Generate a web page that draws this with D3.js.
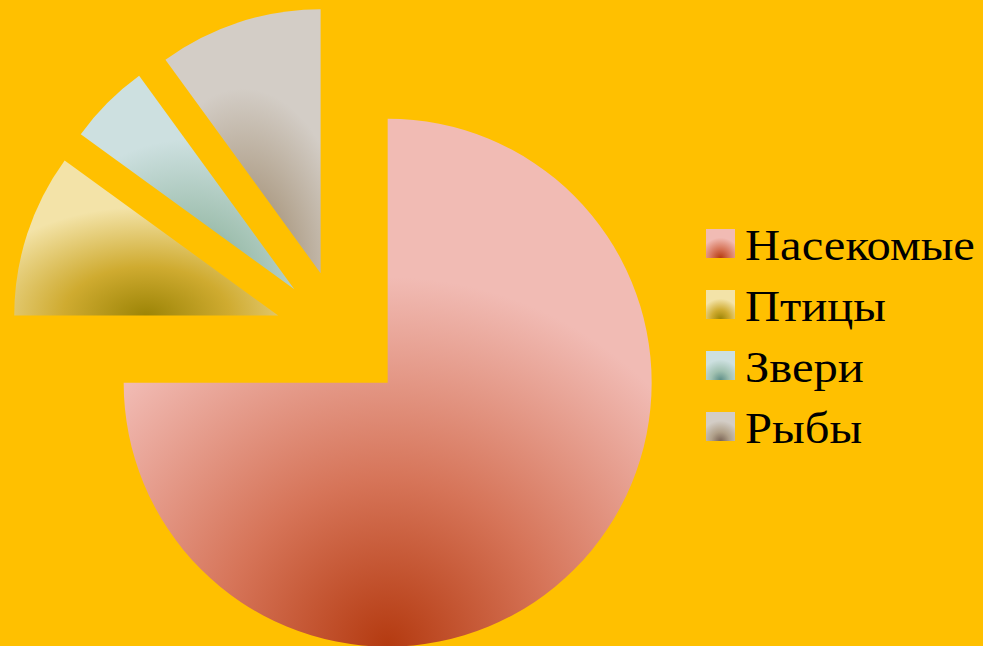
<!DOCTYPE html>
<html>
<head>
    <meta charset="utf-8">
    <title>Pie</title>
    <script src="https://d3js.org/d3.v7.min.js"></script>
    <style>
        body { margin: 0; background-color: #FFC000; }
        svg { display: block; }
        .legend text { font-family: "Liberation Serif", "Times New Roman", serif; font-size: 45px; fill: #000; }
    </style>
</head>
<body>
<div id="chart"></div>
<script>
    // data
    const categories = ["Насекомые", "Птицы", "Звери", "Рыбы"];
    const values = [75, 10, 5, 10];
    // light edge / middle / dark centre of each slice gradient
    const lightColors = ["#F1BBB4", "#F3E3A8", "#CDE0E0", "#D3CDC6"];
    const midColors = ["#D67458", "#CFAB30", "#A0C0B0", "#B0A08A"];
    const darkColors = ["#B43A10", "#9C8406", "#5E8E88", "#7A6456"];

    const width = 983, height = 646;
    const cx = 341, cy = 336, radius = 264, explode = 66;

    const svg = d3.select("#chart")
        .append("svg")
        .attr("width", width)
        .attr("height", height);

    svg.append("rect")
        .attr("width", width)
        .attr("height", height)
        .attr("fill", "#FFC000");

    // one radial gradient per slice, dark at the bottom middle
    const defs = svg.append("defs");
    categories.forEach(function (c, i) {
        const g = defs.append("radialGradient")
            .attr("id", "grad" + i)
            .attr("cx", 0.5).attr("cy", 1)
            .attr("fx", 0.5).attr("fy", 1)
            .attr("r", 0.7);
        g.append("stop").attr("offset", 0).attr("stop-color", darkColors[i]);
        g.append("stop").attr("offset", 0.45).attr("stop-color", midColors[i]);
        g.append("stop").attr("offset", 1).attr("stop-color", lightColors[i]);
    });

    const data = categories.map((c, i) => ({name: c, value: values[i], idx: i}));

    const pie = d3.pie()
        .sort(null)
        .value(d => d.value)
        .startAngle(0)
        .endAngle(2 * Math.PI);

    const arc = d3.arc()
        .innerRadius(0)
        .outerRadius(radius);

    const pieG = svg.append("g")
        .attr("transform", `translate(${cx},${cy})`);

    // every slice is pulled out along its middle angle
    pieG.selectAll("path")
        .data(pie(data))
        .join("path")
        .attr("transform", function (d) {
            const a = (d.startAngle + d.endAngle) / 2;
            return `translate(${Math.sin(a) * explode},${-Math.cos(a) * explode})`;
        })
        .attr("d", arc)
        .attr("fill", d => `url(#grad${d.data.idx})`);

    // legend
    const legend = svg.append("g")
        .attr("class", "legend")
        .attr("transform", "translate(706,260)");

    const rows = legend.selectAll("g")
        .data(data)
        .join("g")
        .attr("transform", (d, i) => `translate(0,${i * 61})`);

    rows.append("rect")
        .attr("x", 0)
        .attr("y", -31)
        .attr("width", 29)
        .attr("height", 29)
        .attr("fill", d => `url(#grad${d.idx})`);

    // text in the picture is a little wider than the font
    rows.append("text")
        .attr("transform", "translate(39,0) scale(1.08,1)")
        .text(d => d.name);
</script>
</body>
</html>
